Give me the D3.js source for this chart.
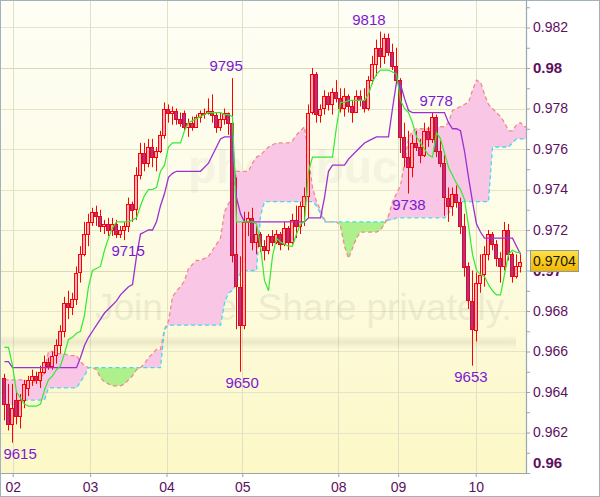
<!DOCTYPE html>
<html><head><meta charset="utf-8">
<script src="https://cdn.jsdelivr.net/npm/d3@7"></script>
<style>body{margin:0;background:#fff}svg{display:block}</style>
</head><body><svg id="c" width="600" height="497"></svg>
<script>
// ---- data (prices in pips: 9704 = 0.9704) ----
const opens  = [9647,9634,9624,9636,9628,9636,9642,9646,9648,9646,9650,9655,9653,9658,9663,9670,9684,9682,9686,9699,9708,9718,9724,9729,9727,9722,9723,9720,9723,9718,9720,9722,9733,9730,9747,9758,9753,9761,9756,9759,9767,9780,9778,9779,9775,9778,9771,9773,9771,9776,9778,9778,9779,9777,9771,9775,9778,9773,9708,9692,9673,9724,9726,9714,9718,9712,9710,9717,9714,9718,9713,9721,9714,9725,9722,9732,9737,9778,9797,9777,9780,9786,9782,9788,9785,9780,9786,9781,9778,9786,9784,9780,9794,9802,9810,9806,9815,9808,9801,9794,9766,9756,9751,9763,9761,9757,9769,9765,9776,9759,9753,9736,9732,9738,9734,9722,9702,9685,9671,9694,9698,9708,9718,9713,9706,9702,9720,9708,9697,9702];
const highs  = [9649,9644,9644,9640,9639,9646,9648,9651,9650,9653,9658,9657,9660,9666,9673,9687,9690,9689,9702,9712,9724,9728,9731,9732,9730,9725,9726,9726,9725,9722,9724,9736,9734,9751,9763,9763,9765,9765,9761,9769,9783,9782,9781,9780,9778,9779,9775,9776,9777,9779,9780,9785,9787,9778,9778,9780,9778,9795,9746,9707,9729,9729,9731,9722,9719,9715,9718,9720,9720,9719,9724,9722,9728,9732,9734,9741,9782,9800,9798,9782,9789,9788,9790,9794,9790,9790,9787,9784,9789,9789,9790,9796,9806,9814,9818,9817,9817,9812,9810,9795,9773,9769,9767,9769,9765,9773,9771,9778,9777,9764,9757,9741,9741,9742,9736,9728,9704,9700,9699,9708,9712,9720,9719,9715,9709,9724,9723,9709,9708,9708];
const lows   = [9626,9621,9615,9624,9622,9632,9638,9643,9644,9642,9649,9651,9651,9654,9659,9667,9676,9678,9683,9694,9707,9712,9722,9722,9719,9718,9717,9717,9716,9716,9715,9719,9724,9725,9745,9749,9751,9751,9749,9758,9765,9773,9772,9772,9771,9769,9766,9769,9771,9773,9775,9777,9773,9768,9769,9772,9767,9704,9671,9650,9671,9717,9710,9708,9709,9705,9708,9712,9713,9710,9712,9710,9713,9716,9718,9722,9726,9777,9773,9773,9777,9779,9777,9783,9778,9776,9778,9773,9778,9781,9778,9779,9792,9796,9800,9802,9806,9799,9792,9758,9751,9738,9746,9759,9753,9756,9761,9763,9756,9751,9727,9724,9727,9731,9718,9697,9681,9653,9665,9689,9692,9705,9710,9702,9694,9700,9705,9694,9696,9699];
const closes = [9634,9624,9632,9628,9636,9644,9646,9648,9646,9650,9655,9653,9658,9663,9670,9684,9682,9686,9699,9708,9718,9724,9729,9727,9722,9723,9720,9723,9718,9720,9722,9733,9730,9747,9758,9753,9761,9756,9759,9767,9780,9778,9779,9775,9773,9771,9773,9771,9776,9778,9778,9779,9777,9771,9775,9778,9773,9708,9692,9673,9724,9726,9714,9718,9712,9710,9717,9714,9718,9713,9721,9714,9725,9722,9732,9737,9778,9797,9777,9780,9786,9782,9788,9785,9780,9786,9781,9778,9786,9784,9780,9794,9802,9810,9806,9815,9808,9801,9794,9766,9756,9751,9763,9761,9757,9769,9765,9776,9759,9753,9736,9732,9738,9734,9722,9702,9685,9671,9694,9698,9708,9718,9713,9706,9702,9720,9708,9697,9702,9704];
const tenkan = [9662,9662,9653,9640,9637,9634,9633,9633,9633,9634,9641,9646,9648,9651,9653,9659,9666,9667,9669,9670,9678,9692,9700,9701,9702,9710,9716,9721,9724,9724,9724,9724,9725,9726,9732,9737,9740,9740,9741,9749,9752,9761,9763,9763,9763,9769,9773,9774,9775,9776,9777,9778,9778,9778,9778,9777,9777,9776,9724,9724,9724,9724,9724,9723,9712,9695,9690,9707,9716,9714,9713,9712,9712,9718,9723,9724,9749,9756,9756,9756,9756,9756,9756,9771,9783,9783,9784,9784,9784,9784,9784,9787,9793,9797,9799,9799,9799,9798,9797,9784,9780,9778,9773,9766,9763,9760,9757,9756,9768,9765,9758,9751,9747,9743,9740,9735,9722,9708,9700,9698,9697,9693,9690,9688,9688,9698,9708,9710,9709,9709];
const kijun  = [9655,9655,9652,9652,9652,9652,9652,9652,9652,9652,9652,9652,9652,9652,9652,9652,9652,9652,9652,9657,9663,9667,9670,9673,9676,9679,9681,9683,9685,9688,9690,9692,9693,9707,9718,9719,9720,9720,9724,9732,9738,9746,9748,9749,9749,9749,9749,9749,9749,9749,9751,9753,9757,9761,9765,9766,9766,9766,9736,9728,9724,9724,9724,9724,9724,9724,9724,9724,9724,9724,9724,9724,9724,9724,9724,9724,9726,9726,9726,9726,9736,9749,9752,9752,9752,9752,9755,9757,9759,9761,9763,9764,9765,9766,9766,9766,9766,9780,9793,9792,9785,9779,9778,9778,9778,9778,9778,9778,9778,9778,9778,9773,9770,9770,9769,9759,9746,9734,9723,9719,9716,9716,9716,9716,9716,9716,9716,9716,9712,9708];
const spanA  = [9646,9646,9646,9646,9646,9646,9645,9645,9645,9645,9651,9660,9660,9659,9659,9659,9658,9658,9658,9655,9653,9652,9652,9651,9647,9645,9644,9643,9643,9643,9644,9646,9648,9651,9652,9654,9657,9659,9661,9661,9671,9675,9687,9690,9692,9695,9701,9703,9705,9705,9706,9707,9710,9713,9716,9729,9733,9736,9749,9749,9749,9749,9753,9756,9757,9759,9761,9762,9763,9763,9763,9763,9764,9767,9769,9771,9756,9741,9734,9730,9725,9724,9724,9724,9722,9712,9706,9711,9716,9719,9719,9719,9719,9719,9720,9723,9727,9734,9738,9742,9753,9765,9769,9770,9770,9770,9770,9770,9771,9771,9771,9773,9779,9780,9781,9782,9783,9789,9794,9793,9787,9782,9780,9778,9776,9773,9769,9769,9772,9773,9771,9771];
const spanB  = [9634,9634,9634,9634,9634,9636,9636,9636,9636,9636,9636,9642,9642,9642,9642,9642,9642,9642,9642,9645,9648,9652,9652,9652,9652,9652,9652,9652,9652,9652,9652,9652,9652,9652,9652,9652,9652,9652,9652,9652,9671,9673,9673,9673,9673,9673,9673,9673,9673,9673,9673,9673,9673,9673,9673,9684,9689,9690,9694,9699,9700,9700,9700,9700,9727,9734,9734,9734,9734,9734,9734,9734,9734,9734,9734,9734,9734,9734,9732,9728,9724,9724,9724,9724,9724,9724,9724,9724,9724,9724,9724,9724,9724,9724,9724,9724,9725,9725,9726,9726,9726,9726,9726,9726,9726,9726,9726,9726,9726,9726,9726,9728,9732,9734,9734,9734,9734,9734,9734,9734,9734,9734,9761,9761,9761,9761,9761,9763,9765,9765,9765,9765];
const dayTickIdx = [2.05, 21.4, 40.5, 59.45, 83.45, 98.4, 117.8];
const dayLabels  = ["02","03","04","05","08","09","10"];
const markIdx  = [3.9, 30.9, 55.4, 59.4, 91.1, 107.9, 101.1, 116.6];
const markVal  = [9615, 9715, 9795, 9650, 9818, 9778, 9738, 9653];
const markHigh = [false, false, true, false, true, true, false, false];
const lastPrice = 9704;

// ---- layout ----
const W = 600, H = 497, plotR = 526, plotB = 473;
const svg = d3.select('#c');
const defs = svg.append('defs');
const bg = defs.append('linearGradient').attr('id','bg').attr('x1',0).attr('y1',0).attr('x2',0).attr('y2',1);
bg.append('stop').attr('offset','0%').attr('stop-color','#fefef6');
bg.append('stop').attr('offset','50%').attr('stop-color','#fdfce4');
bg.append('stop').attr('offset','100%').attr('stop-color','#fcf8c6');
const gold = defs.append('linearGradient').attr('id','gold').attr('x1',0).attr('y1',0).attr('x2',0).attr('y2',1);
gold.append('stop').attr('offset','0%').attr('stop-color','#ffe14a');
gold.append('stop').attr('offset','100%').attr('stop-color','#f2b600');
const band = defs.append('linearGradient').attr('id','band').attr('x1',0).attr('y1',0).attr('x2',0).attr('y2',1);
band.append('stop').attr('offset','0%').attr('stop-color','#8c8c78').attr('stop-opacity',0);
band.append('stop').attr('offset','50%').attr('stop-color','#8c8c78').attr('stop-opacity',0.16);
band.append('stop').attr('offset','100%').attr('stop-color','#8c8c78').attr('stop-opacity',0);
defs.append('clipPath').attr('id','clip').append('rect').attr('x',1).attr('y',1).attr('width',plotR-1).attr('height',plotB-1);

const x = d3.scaleLinear().domain([0,130]).range([4.5,524.5]);
const y = d3.scaleLinear().domain([9600,9800]).range([plotB,68]);

svg.append('rect').attr('width',W).attr('height',H).attr('fill','#fff');
svg.append('rect').attr('x',1).attr('y',1).attr('width',plotR-1).attr('height',plotB-1).attr('fill','url(#bg)');

const plot = svg.append('g').attr('clip-path','url(#clip)');
// grid
plot.selectAll('.hg').data(d3.range(9600,9821,20)).join('line')
  .attr('x1',0).attr('x2',plotR).attr('y1',d=>Math.round(y(d))+0.5).attr('y2',d=>Math.round(y(d))+0.5)
  .attr('stroke',d=>d%100===0?'#d9d9b4':'#e4e4c8').attr('stroke-width',1);
plot.selectAll('.vg').data(dayTickIdx).join('line')
  .attr('y1',0).attr('y2',plotB).attr('x1',d=>Math.round(x(d))+0.5).attr('x2',d=>Math.round(x(d))+0.5)
  .attr('stroke','#e0e0c4').attr('stroke-width',1);

// watermark (faint)
plot.append('rect').attr('x',0).attr('y',335).attr('width',516).attr('height',14).attr('fill','url(#band)');
plot.append('text').attr('x',188).attr('y',183).text('photobucket')
  .attr('font-family','Liberation Sans').attr('font-size',46).attr('font-weight','bold')
  .attr('fill','#a8a898').attr('opacity',0.10);
plot.append('text').attr('x',95).attr('y',320).text('Join free. Share privately.')
  .attr('font-family','Liberation Sans').attr('font-size',37)
  .attr('fill','#a0a090').attr('opacity',0.16);

// cloud
const cloud = spanA.map((a,i)=>({a, b: spanB[i]}));
plot.append('path').datum(cloud).attr('fill','#f9c6e6')
  .attr('d', d3.area().x((d,i)=>x(i)).y0(d=>y(d.b)).y1(d=>y(Math.max(d.a,d.b))));
plot.append('path').datum(cloud).attr('fill','#adf08c')
  .attr('d', d3.area().x((d,i)=>x(i)).y0(d=>y(Math.min(d.a,d.b))).y1(d=>y(d.b)));
plot.append('path').datum(spanA).attr('fill','none').attr('stroke','#f08a8a').attr('stroke-width',1.3)
  .attr('stroke-dasharray','4,3').attr('d', d3.line().x((d,i)=>x(i)).y(d=>y(d)));
plot.append('path').datum(spanB).attr('fill','none').attr('stroke','#3fdcf0').attr('stroke-width',1.3)
  .attr('stroke-dasharray','4,3').attr('d', d3.line().x((d,i)=>x(i)).y(d=>y(d)));

// candles
const bars = opens.map((o,i)=>({i, o, h: highs[i], l: lows[i], c: closes[i]}));
const cg = plot.append('g');
cg.selectAll('line').data(bars).join('line')
  .attr('x1',d=>x(d.i)).attr('x2',d=>x(d.i)).attr('y1',d=>y(d.h)).attr('y2',d=>y(d.l))
  .attr('stroke','#ff0000').attr('stroke-width',1);
cg.selectAll('rect').data(bars).join('rect')
  .attr('x',d=>x(d.i)-2).attr('width',3)
  .attr('y',d=>Math.round(y(Math.max(d.o,d.c)))+0.5)
  .attr('height',d=>Math.max(1, Math.round(Math.abs(y(d.o)-y(d.c)))))
  .attr('fill',d=>d.c>=d.o?'#ffb4c4':'#8a3eb4').attr('stroke','#ff0000').attr('stroke-width',1);

// tenkan / kijun
plot.append('path').datum(kijun).attr('fill','none').attr('stroke','#9b30d2').attr('stroke-width',1.3)
  .attr('d', d3.line().x((d,i)=>x(i)).y(d=>y(d)));
plot.append('path').datum(tenkan).attr('fill','none').attr('stroke','#30ec30').attr('stroke-width',1.2)
  .attr('d', d3.line().x((d,i)=>x(i)).y(d=>y(d)));

// high / low marks
plot.selectAll('.mk').data(markVal).join('text')
  .attr('x',(d,i)=>x(markIdx[i]))
  .attr('y',(d,i)=>markHigh[i] ? y(d)-12 : y(d)+11)
  .attr('dy','0.35em').attr('text-anchor','middle')
  .attr('font-family','Liberation Sans').attr('font-size',15).attr('fill','#7c18d4')
  .text(d=>String(d));

// axes
const yAxis = d3.axisRight(y).tickValues(d3.range(9600,9831,10)).tickSize(4).tickSizeOuter(0).tickPadding(3)
  .tickFormat(v => v%20===0 ? String(v/10000) : '');
const ya = svg.append('g').attr('transform',`translate(${plotR},0)`).call(yAxis);
ya.select('.domain').remove();
ya.selectAll('line').attr('stroke','#98a6ae');
ya.selectAll('text').attr('font-family','Liberation Sans').attr('fill','#5e0f60')
  .attr('font-size',v=>v%100===0?15:14).attr('font-weight',v=>v%100===0?'bold':'normal')
  .attr('y',v=>y(v)>plotB-8? -10 : 0);

const xAxis = d3.axisBottom(x).tickValues(dayTickIdx).tickSize(4).tickSizeOuter(0).tickPadding(5)
  .tickFormat((d,i)=>dayLabels[i]);
const xa = svg.append('g').attr('transform',`translate(0,${plotB})`).call(xAxis);
xa.select('.domain').remove();
xa.selectAll('line').attr('stroke','#98a6ae');
xa.selectAll('text').attr('font-family','Liberation Sans').attr('font-size',14).attr('fill','#5e0f60');

svg.append('line').attr('x1',plotR+0.5).attr('x2',plotR+0.5).attr('y1',0).attr('y2',plotB+0.5)
  .attr('stroke','#98a6ae').attr('stroke-width',1.2);
svg.append('line').attr('x1',0).attr('x2',plotR+0.5).attr('y1',plotB+0.5).attr('y2',plotB+0.5)
  .attr('stroke','#98a6ae').attr('stroke-width',1.2);

// last price box
const py = y(lastPrice);
svg.append('rect').attr('x',530.5).attr('y',Math.round(py)-11.5).attr('width',48).attr('height',21)
  .attr('fill','url(#gold)').attr('stroke','#8a9aa4').attr('stroke-width',1);
svg.append('text').attr('x',554.5).attr('y',py-1).attr('dy','0.35em').attr('text-anchor','middle')
  .attr('font-family','Liberation Sans').attr('font-size',14).attr('fill','#1a1a00')
  .text(String(lastPrice/10000));

// outer border
svg.append('rect').attr('x',0.5).attr('y',0.5).attr('width',W-1).attr('height',H-1)
  .attr('fill','none').attr('stroke','#a2b2bc').attr('stroke-width',1);
</script></body></html>
